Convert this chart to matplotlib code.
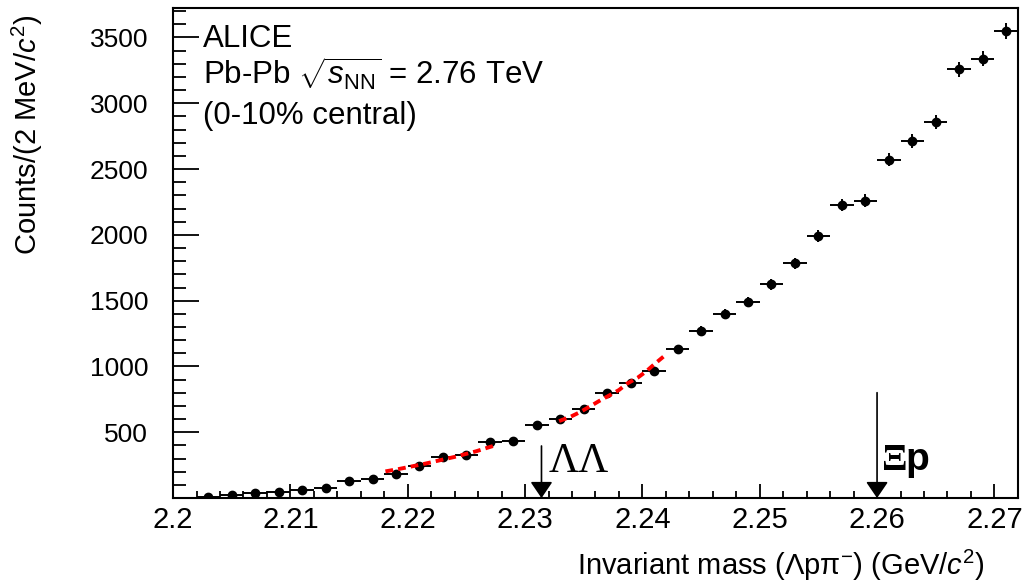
import numpy as np
import matplotlib.pyplot as plt
from matplotlib.ticker import MultipleLocator, FixedLocator, FuncFormatter

plt.rcParams['font.family'] = 'Liberation Sans'
plt.rcParams['mathtext.fontset'] = 'custom'
plt.rcParams['mathtext.rm'] = 'Liberation Sans'
plt.rcParams['mathtext.it'] = 'Liberation Sans:italic'
plt.rcParams['mathtext.bf'] = 'Liberation Sans:bold'

# invariant mass bins (2 MeV wide) and counts
mass = [2.203, 2.205, 2.207, 2.209, 2.211, 2.213, 2.215, 2.217, 2.219, 2.221,
        2.223, 2.225, 2.227, 2.229, 2.231, 2.233, 2.235, 2.237, 2.239, 2.241,
        2.243, 2.245, 2.247, 2.249, 2.251, 2.253, 2.255, 2.257, 2.259, 2.261,
        2.263, 2.265, 2.267, 2.269, 2.271]
counts = [8, 24, 39, 47, 62, 77, 128, 143, 181, 244,
          310, 327, 426, 434, 558, 604, 677, 798, 872, 965,
          1132, 1270, 1398, 1492, 1624, 1783, 1991, 2229, 2259, 2571,
          2712, 2859, 3257, 3338, 3550]
count_err = [3, 5, 6, 7, 8, 9, 11, 12, 13, 16,
             18, 18, 21, 21, 24, 25, 26, 28, 30, 31,
             34, 36, 37, 39, 40, 42, 45, 47, 48, 51,
             52, 53, 57, 58, 60]
bin_half = 0.001

# background fit, shown on both sides of the LL threshold
fit1_x = [2.2181, 2.2193, 2.2203, 2.2213, 2.2221, 2.2230, 2.2240, 2.2248, 2.2258, 2.2267, 2.2275]
fit1_y = [203, 222, 240, 258, 274, 293, 313, 332, 355, 380, 402]
fit2_x = [2.2329, 2.2339, 2.2347, 2.2356, 2.2363, 2.2372, 2.2380, 2.2387, 2.2396, 2.2403, 2.2410, 2.2418]
fit2_y = [585, 619, 654, 700, 737, 781, 821, 870, 915, 961, 1016, 1075]

# thresholds
m_LL = 2.2314
m_Xip = 2.2600
arrow_top_LL = 396
arrow_top_Xip = 801

fig = plt.figure(figsize=(10.24, 5.86), dpi=100)
ax = fig.add_axes([0.169, 0.150, 0.825, 0.836])

ax.errorbar(mass, counts, xerr=bin_half, yerr=count_err, fmt='o', color='black',
            ms=6, elinewidth=1.4, capsize=0, zorder=3)
ax.plot(fit1_x, fit1_y, color='red', lw=2.8, dashes=(2.0, 1.3), zorder=4)
ax.plot(fit2_x, fit2_y, color='red', lw=2.8, dashes=(2.0, 1.3), zorder=4)

for xm, top in [(m_LL, arrow_top_LL), (m_Xip, arrow_top_Xip)]:
    ax.annotate('', xy=(xm, 0), xytext=(xm, top),
                arrowprops=dict(arrowstyle='-|>,head_length=0.5,head_width=0.34',
                                mutation_scale=20, color='black', lw=1.2,
                                shrinkA=0, shrinkB=0))

ax.text(2.2320, 198, 'ΛΛ', fontsize=30, family='Liberation Serif', va='baseline')
ax.text(2.26045, 210, 'Ξ', fontsize=27, family='Liberation Serif', weight='bold', va='baseline')
ax.text(2.26245, 210, 'p', fontsize=28, weight='bold', va='baseline')

ax.set_xlim(2.2, 2.272)
ax.set_ylim(0, 3722)

ax.xaxis.set_major_locator(MultipleLocator(0.01))
ax.xaxis.set_minor_locator(MultipleLocator(0.002))
ax.xaxis.set_major_formatter(FuncFormatter(lambda v, p: '%g' % round(v, 3)))
ax.yaxis.set_major_locator(FixedLocator([500, 1000, 1500, 2000, 2500, 3000, 3500]))
ax.yaxis.set_minor_locator(MultipleLocator(100))

ax.tick_params(axis='x', which='major', direction='in', length=10, width=1.3,
               labelsize=21, pad=6, top=False)
ax.tick_params(axis='x', which='minor', direction='in', length=5, width=1.3, top=False)
ax.tick_params(axis='y', which='major', direction='in', length=19, width=1.3,
               labelsize=19, pad=18, right=False)
ax.tick_params(axis='y', which='minor', direction='in', length=9.5, width=1.3, right=False)
for s in ax.spines.values():
    s.set_linewidth(1.5)

ax.set_xlabel('Invariant mass (Λpπ$^{-}$) (GeV/$c^{2}$)', fontsize=21, loc='right')
ax.xaxis.set_label_coords(0.961, -0.102)
ax.set_ylabel('Counts/(2 MeV/$c^{2}$)', fontsize=21, loc='top')
ax.yaxis.set_label_coords(-0.151, 0.986)

ax.text(0.0355, 0.921, 'ALICE', transform=ax.transAxes, fontsize=22.5, va='baseline')
ax.text(0.0355, 0.843, r'Pb-Pb $\sqrt{s_{\rm NN}}$ = 2.76 TeV', transform=ax.transAxes,
        fontsize=22.5, va='baseline')
ax.text(0.0355, 0.764, '(0-10% central)', transform=ax.transAxes, fontsize=22.5, va='baseline')

fig.savefig('out.png', dpi=100)
